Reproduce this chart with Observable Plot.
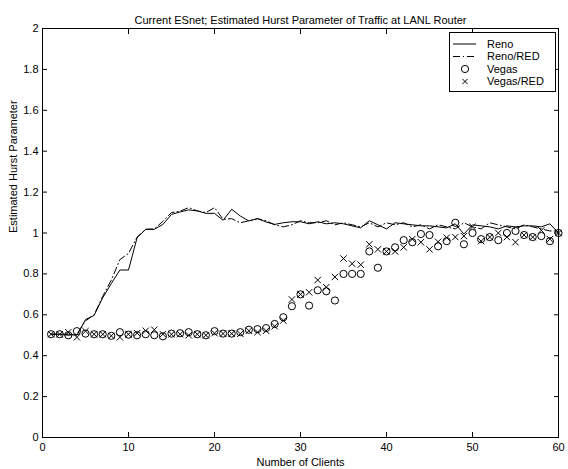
<!DOCTYPE html>
<html><head><meta charset="utf-8">
<script src="https://cdn.jsdelivr.net/npm/d3@7"></script>
<script src="https://cdn.jsdelivr.net/npm/@observablehq/plot@0.6"></script>
<style>
body{margin:0;background:#fff;}
#wrap{position:relative;width:568px;height:469px;font-family:"Liberation Sans",Arial,sans-serif;}
#legend{position:absolute;left:449px;top:32px;width:105px;height:58px;border:1px solid #000;background:#fff;}
</style></head><body><div id="wrap"></div>
<script>
const title = "Current ESnet; Estimated Hurst Parameter of Traffic at LANL Router";
const xLabel = "Number of Clients";
const yLabel = "Estimated Hurst Parameter";
const seriesNames = ["Reno", "Reno/RED", "Vegas", "Vegas/RED"];
const xTicks = [0, 10, 20, 30, 40, 50, 60];
const yTicks = [0, 0.2, 0.4, 0.6, 0.8, 1, 1.2, 1.4, 1.6, 1.8, 2];
const clients = [1,2,3,4,5,6,7,8,9,10,11,12,13,14,15,16,17,18,19,20,21,22,23,24,25,26,27,28,29,30,
  31,32,33,34,35,36,37,38,39,40,41,42,43,44,45,46,47,48,49,50,51,52,53,54,55,56,57,58,59,60];
const reno = [0.505,0.505,0.505,0.50,0.577,0.597,0.683,0.753,0.819,0.819,
  0.977,1.018,1.018,1.042,1.091,1.103,1.113,1.108,1.096,1.096,
  1.062,1.116,1.083,1.059,1.07,1.054,1.042,1.05,1.055,1.055,
  1.045,1.055,1.045,1.05,1.045,1.035,1.025,1.06,1.04,1.02,
  1.05,1.045,1.04,1.035,1.035,1.03,1.025,1.045,0.995,1.04,
  1.035,1.03,1.02,1.035,1.03,1.035,1.035,1.03,1.045,1.00];
const renoRed = [0.505,0.505,0.50,0.505,0.57,0.60,0.69,0.77,0.87,0.90,
  0.98,1.018,1.02,1.057,1.10,1.107,1.124,1.108,1.10,1.124,
  1.067,1.07,1.05,1.06,1.07,1.06,1.04,1.03,1.04,1.06,
  1.05,1.05,1.06,1.04,1.05,1.04,1.03,1.05,1.03,1.05,
  1.04,1.05,1.03,1.04,1.02,1.04,1.03,1.02,1.05,1.03,
  1.02,1.05,1.04,1.03,1.02,1.04,1.03,1.02,1.01,1.01];
const vegas = [0.505,0.505,0.50,0.52,0.508,0.505,0.505,0.497,0.515,0.503,
  0.50,0.505,0.50,0.495,0.508,0.51,0.515,0.505,0.50,0.52,
  0.508,0.508,0.515,0.527,0.53,0.535,0.555,0.588,0.642,0.70,
  0.645,0.72,0.715,0.67,0.80,0.80,0.80,0.91,0.83,0.91,
  0.93,0.965,0.955,0.995,0.99,0.935,0.96,1.05,0.945,1.0,
  0.97,0.98,0.965,1.0,1.01,0.99,0.98,0.985,0.96,1.0];
const vegasRed = [0.505,0.505,0.515,0.49,0.52,0.505,0.505,0.497,0.49,0.505,
  0.51,0.522,0.527,0.505,0.505,0.505,0.50,0.505,0.50,0.51,
  0.508,0.508,0.507,0.522,0.515,0.522,0.544,0.572,0.675,0.70,
  0.71,0.77,0.735,0.785,0.875,0.85,0.845,0.945,0.92,0.91,
  0.91,0.93,0.97,0.955,0.92,0.957,0.977,0.98,0.985,1.03,
  0.96,0.98,1.0,0.98,0.955,0.99,0.98,1.013,0.97,1.0];

const data = clients.map((c, i) => ({c, reno: reno[i], renoRed: renoRed[i], vegas: vegas[i], vegasRed: vegasRed[i]}));
const dashDot = "7,3,1,3";
const tk = 5;

const chart = Plot.plot({
  width: 568, height: 469,
  marginLeft: 42, marginRight: 10, marginTop: 28, marginBottom: 32,
  style: {fontFamily: "'Liberation Sans', Arial, sans-serif", fontSize: "11px", color: "#000", background: "#fff", overflow: "visible"},
  x: {domain: [0, 60]},
  y: {domain: [0, 2]},
  marks: [
    Plot.line(data, {x: "c", y: "reno", stroke: "#000", strokeWidth: 1}),
    Plot.line(data, {x: "c", y: "renoRed", stroke: "#000", strokeWidth: 1, strokeDasharray: dashDot}),
    Plot.dot(data, {x: "c", y: "vegas", r: 3.6, stroke: "#000", fill: "none", strokeWidth: 1}),
    Plot.dot(data, {x: "c", y: "vegasRed", symbol: "times", r: 3, stroke: "#000", strokeWidth: 1}),
    Plot.axisX(xTicks, {anchor: "bottom", tickSize: 0, tickPadding: 6, tickFormat: d => String(d), label: null}),
    Plot.axisX(xTicks, {anchor: "bottom", tickSize: tk, dy: -tk, tickFormat: () => "", label: null}),
    Plot.axisX(xTicks, {anchor: "top", tickSize: tk, dy: tk, tickFormat: () => "", label: null}),
    Plot.axisY(yTicks, {anchor: "left", tickSize: 0, tickPadding: 4, tickFormat: d => String(d), label: null}),
    Plot.axisY(yTicks, {anchor: "left", tickSize: tk, dx: tk, tickFormat: () => "", label: null}),
    Plot.axisY(yTicks, {anchor: "right", tickSize: tk, dx: -tk, tickFormat: () => "", label: null}),
    Plot.frame({stroke: "#000", strokeWidth: 1}),
    Plot.text([title], {frameAnchor: "top", dy: -12, fontSize: 11, fill: "#000"}),
    Plot.text([xLabel], {frameAnchor: "bottom", dy: 28, fontSize: 11, fill: "#000"}),
    Plot.text([yLabel], {frameAnchor: "left", dx: -29, rotate: -90, fontSize: 11, fill: "#000"})
  ]
});
const wrap = document.getElementById("wrap");
wrap.appendChild(chart);

// legend
const leg = document.createElement("div");
leg.id = "legend";
const ns = "http://www.w3.org/2000/svg";
const ls = document.createElementNS(ns, "svg");
ls.setAttribute("width", 105); ls.setAttribute("height", 58);
ls.style.fontFamily = "'Liberation Sans', Arial, sans-serif";
ls.style.fontSize = "11px";
const rows = [11, 23.5, 36, 48.5];
seriesNames.forEach((name, i) => {
  const y = rows[i];
  if (i < 2) {
    const l = document.createElementNS(ns, "line");
    l.setAttribute("x1", 3); l.setAttribute("x2", 26); l.setAttribute("y1", y); l.setAttribute("y2", y);
    l.setAttribute("stroke", "#000"); l.setAttribute("stroke-width", 1);
    if (i === 1) l.setAttribute("stroke-dasharray", dashDot);
    ls.appendChild(l);
  } else if (i === 2) {
    const c = document.createElementNS(ns, "circle");
    c.setAttribute("cx", 15); c.setAttribute("cy", y); c.setAttribute("r", 3.6);
    c.setAttribute("fill", "none"); c.setAttribute("stroke", "#000");
    ls.appendChild(c);
  } else {
    const p = document.createElementNS(ns, "path");
    const s = 2.6;
    p.setAttribute("d", `M${15-s},${y-s}L${15+s},${y+s}M${15-s},${y+s}L${15+s},${y-s}`);
    p.setAttribute("stroke", "#000");
    ls.appendChild(p);
  }
  const t = document.createElementNS(ns, "text");
  t.setAttribute("x", 37); t.setAttribute("y", y); t.setAttribute("dy", "0.35em");
  t.textContent = name;
  ls.appendChild(t);
});
leg.appendChild(ls);
wrap.appendChild(leg);
</script></body></html>
